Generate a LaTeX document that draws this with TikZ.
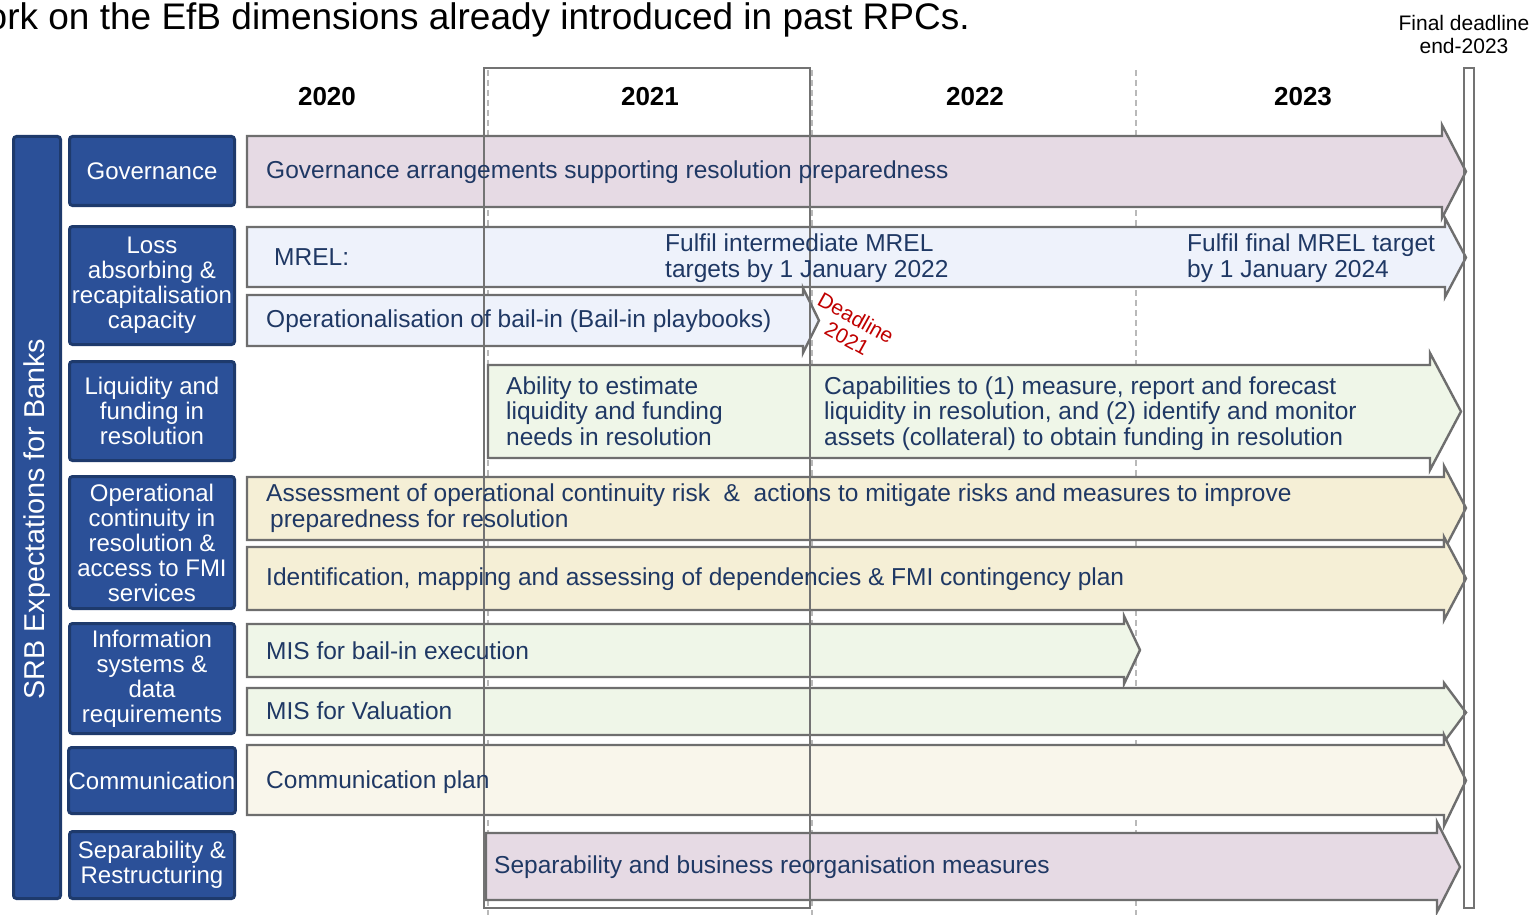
\documentclass[tikz,border=0pt]{standalone}
\usepackage{fontspec}
\setmainfont{Liberation Sans}
\definecolor{catfill}{HTML}{2B5098}
\definecolor{catborder}{HTML}{1E3A6C}
\definecolor{arrowgray}{HTML}{6E6E6E}
\definecolor{navy}{HTML}{1F3864}
\definecolor{mauve}{HTML}{E6DAE4}
\definecolor{lblue}{HTML}{EEF2FB}
\definecolor{lgreen}{HTML}{EFF6E8}
\definecolor{beige}{HTML}{F5EFD6}
\definecolor{cream}{HTML}{F9F6EB}
\definecolor{deadred}{HTML}{C00000}
\newcommand\tlarrow[8]{%
  \filldraw[arrowline, fill=#1] (#2,#6) -- (#3,#6) -- (#3,#5) -- (#4,{(#5+#8)/2}) -- (#3,#8) -- (#3,#7) -- (#2,#7) -- cycle;}
\tikzset{
  arrowline/.style={draw=arrowgray, line width=2.4pt, line join=miter},
  cat/.style={draw=catborder, fill=catfill, line width=3pt, rounded corners=3pt, text=white, align=center, font=\fontsize{24}{25}\selectfont, inner sep=0pt, minimum width=165pt},
  lbl/.style={text=navy, font=\fontsize{24.5}{25.5}\selectfont, anchor=west, align=left, inner sep=0pt},
  year/.style={font=\bfseries\fontsize{26}{30}\selectfont, inner sep=0pt},
  vdash/.style={draw=gray!55, dash pattern=on 6pt off 4pt, line width=1.3pt},
  frame/.style={draw=gray!90!black, line width=1.8pt},
  redtxt/.style={rotate=-29, text=deadred, inner sep=0pt, font=\fontsize{21}{23}\selectfont},
}
\begin{document}
\begin{tikzpicture}[x=1pt,y=-1pt]
\useasboundingbox (0,0) rectangle (1535,915);
\clip (0,0) rectangle (1535,915);
% title
\node[anchor=base east, inner sep=0pt, font=\fontsize{37}{40}\selectfont] (title) at (970,30) {ork on the EfB dimensions already introduced in past RPCs.};
% years
\node[year] (y2020) at (327,97) {2020};
\node[year] (y2021) at (650,97) {2021};
\node[year] (y2022) at (975,97) {2022};
\node[year] (y2023) at (1303,97) {2023};
\node[align=center, inner sep=0pt, font=\fontsize{21}{23}\selectfont] (final) at (1464,34) {Final deadline\\end-2023};
% dashed year separators
\draw[vdash] (488,70) -- (488,915);
\draw[vdash] (812,70) -- (812,915);
\draw[vdash] (1136,70) -- (1136,915);
% left bar
\node[draw=catborder, fill=catfill, line width=3pt, rounded corners=3pt, minimum width=47pt, minimum height=762pt, inner sep=0pt] (bar) at (37,517.5) {};
\node[rotate=90, text=white, font=\fontsize{28.7}{30}\selectfont, inner sep=0pt] (bartext) at (37,519) {SRB Expectations for Banks};
% categories
\node[cat, minimum height=69pt] (c1) at (152,171) {Governance};
\node[cat, minimum height=118pt] (c2) at (152,285.5) {Loss\\absorbing \&\\recapitalisation\\capacity};
\node[cat, minimum height=99pt] (c3) at (152,411) {Liquidity and\\funding in\\resolution};
\node[cat, minimum height=132pt] (c4) at (152,542.5) {Operational\\continuity in\\resolution \&\\access to FMI\\services};
\node[cat, minimum height=110pt] (c5) at (152,678.5) {Information\\systems \&\\data\\requirements};
\node[cat, minimum height=66pt] (c6) at (152,780.5) {Communication};
\node[cat, minimum height=67pt] (c7) at (152,865) {Separability \&\\Restructuring};
% arrows
\tlarrow{mauve}{247}{1442}{1466}{125}{136}{207}{218}
\tlarrow{lblue}{247}{1445}{1466}{218}{227}{287}{297}
\tlarrow{lblue}{247}{803}{819}{288}{295}{346}{353}
\tlarrow{lgreen}{488}{1430}{1461}{353}{365}{458}{470}
\tlarrow{beige}{247}{1444}{1466}{466}{477}{540}{550}
\tlarrow{beige}{247}{1444}{1466}{537}{547}{610}{620}
\tlarrow{lgreen}{247}{1124}{1140}{616}{624}{677}{684}
\tlarrow{lgreen}{247}{1444}{1466}{683}{688}{735}{742}
\tlarrow{cream}{247}{1444}{1466}{735}{745}{815}{826}
\tlarrow{mauve}{486}{1437}{1460}{822}{833}{900}{912}
% 2021 frame and final deadline bar
\draw[frame] (484,68) rectangle (810,908);
\draw[frame] (1464,68) rectangle (1474,908);
% arrow texts
\node[lbl] (t1) at (266,172) {Governance arrangements supporting resolution preparedness};
\node[lbl] (t2) at (274,257) {MREL:};
\node[lbl] (t2b) at (665,258) {Fulfil intermediate MREL\\targets by 1 January 2022};
\node[lbl] (t2c) at (1187,258) {Fulfil final MREL target\\by 1 January 2024};
\node[lbl] (t3) at (266,321) {Operationalisation of bail-in (Bail-in playbooks)};
\node[redtxt] (dl1) at (856,318) {Deadline};
\node[redtxt] (dl2) at (847,339) {2021};
\node[lbl] (t4a) at (506,411) {Ability to estimate\\liquidity and funding\\needs in resolution};
\node[lbl] (t4b) at (824,413.5) {Capabilities to (1) measure, report and forecast\\liquidity in resolution, and (2) identify and monitor\\assets (collateral) to obtain funding in resolution};
\node[lbl] (t5) at (266,508) {Assessment of operational continuity risk \ \& \ actions to mitigate risks and measures to improve\\\hspace*{4pt}preparedness for resolution};
\node[lbl] (t6) at (266,579) {Identification, mapping and assessing of dependencies \& FMI contingency plan};
\node[lbl] (t7) at (266,651) {MIS for bail-in execution};
\node[lbl] (t8) at (266,711) {MIS for Valuation};
\node[lbl] (t9) at (266,782) {Communication plan};
\node[lbl] (t10) at (494,867) {Separability and business reorganisation measures};
\end{tikzpicture}
\end{document}
